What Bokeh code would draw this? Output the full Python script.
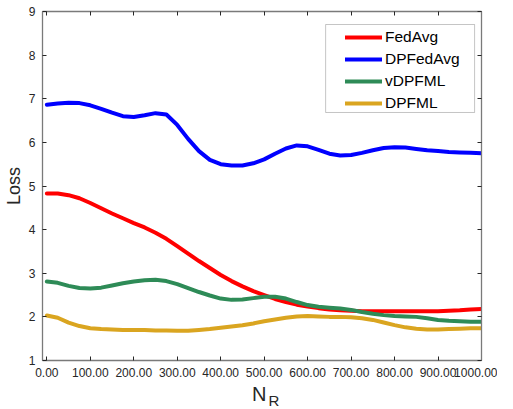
from bokeh.plotting import figure
from bokeh.models import (Range1d, LinearAxis, FixedTicker, Legend, LegendItem,
                          BoxAnnotation, Label)
from bokeh.embed import file_html
from bokeh.resources import INLINE

# ---- data ----
rounds = [0, 25, 50, 75, 100, 125, 150, 175, 200, 225, 250, 275, 300, 325, 350,
          375, 400, 425, 450, 475, 500, 525, 550, 575, 600, 625, 650, 675, 700,
          725, 750, 775, 800, 825, 850, 875, 900, 925, 950, 975, 1000]
fedavg = [4.83, 4.83, 4.79, 4.72, 4.61, 4.49, 4.37, 4.26, 4.15, 4.05, 3.93,
          3.79, 3.62, 3.45, 3.28, 3.12, 2.96, 2.82, 2.70, 2.59, 2.50, 2.41,
          2.34, 2.28, 2.24, 2.20, 2.17, 2.15, 2.14, 2.13, 2.13, 2.13, 2.13,
          2.13, 2.13, 2.13, 2.13, 2.14, 2.15, 2.17, 2.18]
dpfedavg = [6.86, 6.89, 6.91, 6.90, 6.85, 6.77, 6.68, 6.60, 6.58, 6.62, 6.67,
            6.64, 6.40, 6.08, 5.80, 5.60, 5.50, 5.47, 5.47, 5.52, 5.61, 5.74,
            5.86, 5.93, 5.91, 5.83, 5.74, 5.70, 5.71, 5.76, 5.82, 5.87, 5.89,
            5.88, 5.85, 5.82, 5.80, 5.78, 5.77, 5.76, 5.75]
vdpfml = [2.81, 2.78, 2.71, 2.66, 2.65, 2.67, 2.72, 2.77, 2.81, 2.84, 2.85,
          2.82, 2.75, 2.66, 2.57, 2.49, 2.42, 2.39, 2.40, 2.43, 2.46, 2.46,
          2.42, 2.34, 2.27, 2.23, 2.21, 2.19, 2.16, 2.11, 2.07, 2.04, 2.02,
          2.01, 2.00, 1.97, 1.93, 1.91, 1.90, 1.89, 1.89]
dpfml = [2.03, 1.98, 1.87, 1.79, 1.74, 1.72, 1.71, 1.70, 1.70, 1.70, 1.69,
         1.69, 1.68, 1.68, 1.70, 1.72, 1.75, 1.78, 1.81, 1.85, 1.90, 1.94,
         1.98, 2.01, 2.02, 2.01, 2.00, 2.00, 1.99, 1.97, 1.93, 1.87, 1.81,
         1.76, 1.73, 1.71, 1.71, 1.72, 1.73, 1.74, 1.74]

series_names = ["FedAvg", "DPFedAvg", "vDPFML", "DPFML"]
series_colors = ["#FF0000", "#0000FF", "#2E8B57", "#DAA520"]

x_ticks = [0, 100, 200, 300, 400, 500, 600, 700, 800, 900, 1000]
x_tick_labels = ["0.00", "100.00", "200.00", "300.00", "400.00", "500.00",
                 "600.00", "700.00", "800.00", "900.00", "1000.00"]
y_ticks = [1, 2, 3, 4, 5, 6, 7, 8, 9]
y_tick_labels = ["1", "2", "3", "4", "5", "6", "7", "8", "9"]

FONT = "Liberation Sans"
TXT = "#262626"
AX = "#7a7a7a"

p = figure(width=497, height=409, output_backend="svg", toolbar_location=None,
           x_range=Range1d(-10, 1000), y_range=Range1d(1, 9),
           x_axis_location=None, y_axis_location=None,
           min_border_left=36, min_border_right=16, min_border_top=11,
           min_border_bottom=49)
p.outline_line_color = None
p.xgrid.visible = False
p.ygrid.visible = False
p.background_fill_color = "white"


def style_axis(ax, ticks, labels, show_labels):
    ax.ticker = FixedTicker(ticks=ticks)
    ax.major_tick_in = 4
    ax.major_tick_out = 0
    ax.minor_tick_line_color = None
    ax.axis_line_color = AX
    ax.axis_line_width = 1.3
    ax.major_tick_line_color = TXT
    ax.major_tick_line_width = 1
    ax.major_label_text_font = FONT
    if show_labels:
        ax.major_label_overrides = {t: l for t, l in zip(ticks, labels)}
        ax.major_label_text_font_size = "12px"
        ax.major_label_text_color = TXT
    else:
        ax.major_label_overrides = {t: "" for t in ticks}
        ax.major_label_text_font_size = "1px"
        ax.major_label_text_color = None
        ax.major_label_standoff = 0


xb = LinearAxis()
style_axis(xb, x_ticks, x_tick_labels, True)
xb.major_label_standoff = 7
xb.axis_label = "N\u00a0"
xb.axis_label_text_font = FONT
xb.axis_label_text_font_size = "20px"
xb.axis_label_text_font_style = "normal"
xb.axis_label_text_color = TXT
xb.axis_label_standoff = 3
p.add_layout(xb, "below")

yl = LinearAxis()
style_axis(yl, y_ticks, y_tick_labels, True)
yl.major_label_standoff = 7
yl.axis_label = "Loss"
yl.axis_label_text_font = FONT
yl.axis_label_text_font_size = "18px"
yl.axis_label_text_font_style = "normal"
yl.axis_label_text_color = TXT
yl.axis_label_standoff = 2
p.add_layout(yl, "left")

xt = LinearAxis()
style_axis(xt, x_ticks, x_tick_labels, False)
p.add_layout(xt, "above")

yr = LinearAxis()
style_axis(yr, y_ticks, y_tick_labels, False)
p.add_layout(yr, "right")

renderers = []
for vals, name, col in zip([fedavg, dpfedavg, vdpfml, dpfml], series_names, series_colors):
    r = p.line(rounds, vals, line_color=col, line_width=4, line_join="round", line_cap="round")
    renderers.append(r)

# legend frame
box = BoxAnnotation(left=641.4, right=984.1, top=8.702, bottom=6.685,
                    fill_color="white", fill_alpha=1.0,
                    line_color="#404040", line_width=1)
p.add_layout(box)

legend = Legend(items=[LegendItem(label=n, renderers=[r]) for n, r in zip(series_names, renderers)],
                location=(303, 246), padding=0, margin=0, spacing=0,
                glyph_width=37, glyph_height=22, label_height=22, label_standoff=3,
                label_text_font=FONT, label_text_font_size="15.5px",
                label_text_color="#000000",
                border_line_color=None, background_fill_alpha=0)
p.add_layout(legend)

# subscript R of the x axis label, held in the (narrow) right panel
p.add_layout(Label(x=-213, y=-39.5, x_units="screen", y_units="screen", text="R",
                   text_font=FONT, text_font_size="15px", text_color=TXT,
                   text_align="left", text_baseline="alphabetic"), "right")

open("out.html", "w").write(file_html(p, INLINE))
